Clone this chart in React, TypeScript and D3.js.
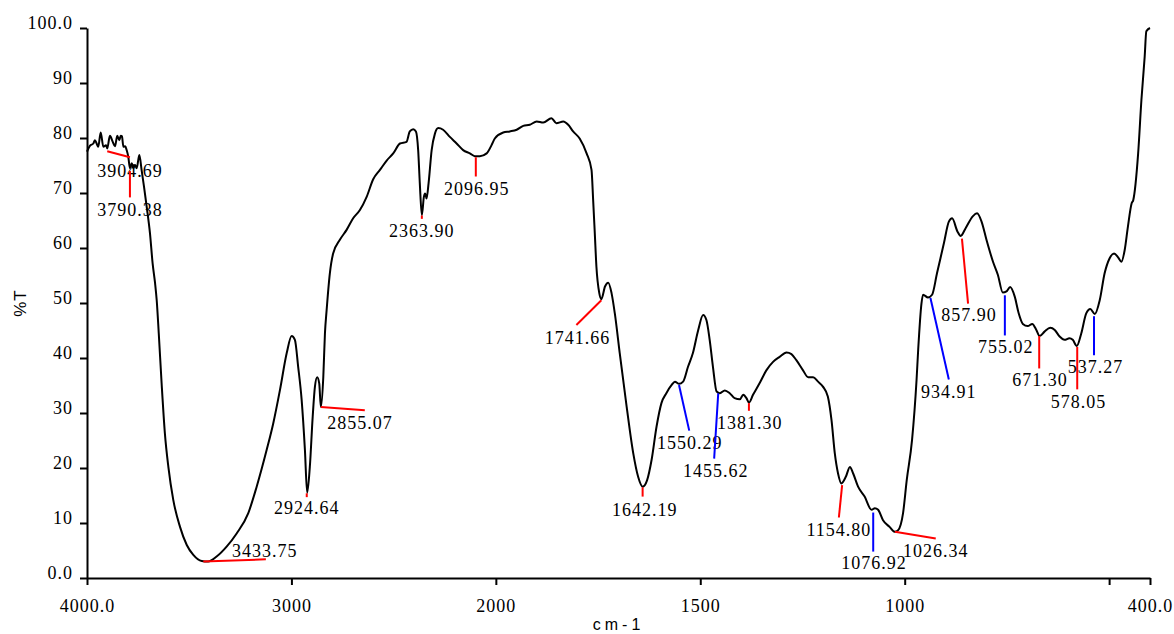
import React, { useEffect, useRef } from "react";
import * as d3 from "d3";

// IR spectrum, %T against wavenumber (cm-1), with picked peaks

const wavenumbers = [
  4000, 3985, 3969, 3961, 3953, 3945, 3933, 3920, 3907, 3901,
  3888, 3874, 3863, 3852, 3842, 3835, 3829, 3822, 3813, 3806,
  3798, 3790, 3781, 3774, 3765, 3757, 3744, 3733, 3721, 3708,
  3692, 3679, 3667, 3659, 3649, 3635, 3619, 3602, 3578, 3545,
  3512, 3480, 3439, 3407, 3366, 3317, 3268, 3211, 3170, 3121,
  3089, 3056, 3023, 2999, 2983, 2967, 2950, 2934, 2923, 2910,
  2896, 2885, 2874, 2864, 2856, 2844, 2836, 2828, 2812, 2796,
  2763, 2730, 2698, 2665, 2632, 2600, 2567, 2534, 2502, 2469,
  2437, 2421, 2404, 2391, 2380, 2372, 2362, 2352, 2346, 2339,
  2329, 2314, 2298, 2282, 2258, 2225, 2192, 2160, 2127, 2103,
  2078, 2045, 2021, 2005, 1982, 1966, 1949, 1933, 1917, 1900,
  1884, 1864, 1852, 1835, 1823, 1811, 1795, 1778, 1766, 1762,
  1758, 1754, 1747, 1742, 1733, 1725, 1717, 1709, 1697, 1680,
  1664, 1652, 1641, 1630, 1619, 1607, 1595, 1583, 1570, 1562,
  1552, 1542, 1530, 1518, 1505, 1493, 1485, 1477, 1469, 1460,
  1452, 1440, 1428, 1416, 1403, 1395, 1387, 1381, 1371, 1355,
  1338, 1322, 1306, 1289, 1277, 1265, 1249, 1236, 1224, 1212,
  1200, 1188, 1179, 1171, 1163, 1155, 1144, 1134, 1126, 1114,
  1098, 1081, 1073, 1065, 1053, 1037, 1024, 1016, 1004, 995,
  982, 971, 967, 959, 955, 943, 933, 921, 904, 892,
  884, 871, 863, 851, 833, 823, 812, 800, 784, 772,
  760, 751, 742, 731, 721, 711, 699, 688, 678, 670,
  658, 644, 633, 621, 609, 597, 589, 579, 568, 556,
  546, 535, 523, 511, 499, 488, 478, 470, 462, 454,
  445, 441, 429, 421, 413, 409, 400,
];

const transmittance = [
  77.5, 78.6, 79.0, 79.6, 79.0, 78.4, 81.0, 78.4, 78.7, 78.1,
  80.4, 79.3, 78.5, 80.4, 79.6, 80.4, 80.3, 78.4, 78.5, 77.8,
  76.6, 74.5, 75.4, 74.5, 75.1, 74.5, 76.9, 74.2, 71.1, 67.5,
  62.7, 57.2, 53.6, 50.5, 44.5, 35.4, 26.3, 20.2, 14.2, 9.3,
  6.0, 4.2, 3.1, 3.0, 3.9, 5.7, 8.1, 11.8, 16.6, 23.3,
  28.1, 34.2, 40.9, 44.0, 43.3, 38.4, 32.4, 23.3, 15.5, 20.2,
  29.3, 34.8, 36.5, 35.4, 31.1, 36.6, 44.5, 48.6, 55.4, 59.0,
  61.5, 63.3, 65.4, 66.9, 69.3, 72.5, 74.2, 75.9, 77.2, 79.0,
  79.3, 81.2, 81.6, 81.2, 77.8, 71.8, 66.0, 69.3, 69.9, 69.0,
  71.8, 77.8, 80.8, 81.8, 81.5, 80.2, 79.0, 77.8, 77.2, 76.7,
  76.7, 77.2, 78.7, 79.9, 81.0, 81.2, 81.5, 82.2, 82.4, 83.0,
  82.8, 83.6, 82.7, 83.0, 82.4, 81.2, 79.9, 77.2, 74.2, 68.7,
  62.7, 56.6, 51.8, 50.7, 53.0, 53.7, 51.8, 48.1, 40.9, 31.1,
  22.7, 18.4, 16.6, 17.8, 21.5, 27.5, 31.8, 33.6, 35.1, 35.7,
  35.3, 35.7, 38.4, 40.9, 45.1, 47.8, 46.9, 43.3, 38.4, 33.9,
  33.6, 34.1, 33.6, 32.7, 32.5, 33.3, 32.7, 31.9, 33.3, 35.4,
  37.8, 39.3, 40.2, 41.0, 40.7, 39.6, 37.8, 36.5, 36.5, 35.7,
  34.8, 33.0, 28.7, 22.7, 19.0, 17.2, 18.4, 20.2, 19.0, 16.6,
  14.8, 12.4, 12.7, 12.4, 10.5, 9.3, 8.4, 8.7, 11.8, 17.8,
  25.1, 36.0, 41.5, 49.9, 51.5, 51.0, 51.5, 55.4, 60.9, 64.8,
  65.4, 63.0, 62.2, 63.6, 65.8, 66.3, 64.8, 61.5, 57.5, 55.1,
  51.9, 52.1, 52.9, 51.2, 48.1, 46.2, 45.8, 46.2, 45.1, 44.0,
  44.8, 45.5, 45.1, 43.9, 43.3, 43.6, 43.3, 42.2, 44.5, 48.1,
  48.9, 48.0, 50.5, 55.4, 58.1, 59.0, 58.3, 57.5, 59.6, 63.9,
  68.1, 68.7, 77.2, 86.9, 94.8, 99.4, 100.0,
];

const yTicks = [0, 10, 20, 30, 40, 50, 60, 70, 80, 90, 100];
const yTickLabels = ["0.0", "10", "20", "30", "40", "50", "60", "70", "80", "90", "100.0"];
const xTicks = [4000, 3000, 2000, 1500, 1000, 500, 400];
const xTickLabels = ["4000.0", "3000", "2000", "1500", "1000", "", "400.0"];

// peak picks: label, marker kind, leader line (wavenumber, %T) from/to, label centre
const peakLabels = [
  "3904.69", "3790.38", "3433.75", "2924.64", "2855.07", "2363.90", "2096.95",
  "1741.66", "1642.19", "1550.29", "1455.62", "1381.30", "1154.80", "1076.92",
  "1026.34", "934.91", "857.90", "755.02", "671.30", "578.05", "537.27",
];
const peakKinds = [
  "min", "min", "min", "min", "min", "min", "min",
  "min", "min", "shoulder", "shoulder", "min", "min", "shoulder",
  "min", "shoulder", "min", "shoulder", "min", "min", "shoulder",
];
const leaderFrom: [number, number][] = [
  [3901, 77.6], [3790, 74.0], [3431, 3.0], [2925, 15.4], [2856, 31.1], [2362, 65.9], [2098, 76.5],
  [1742, 50.5], [1641, 16.5], [1552, 35.1], [1456, 33.6], [1381, 31.8], [1153, 16.9], [1077, 11.9],
  [1024, 8.4], [937, 50.9], [860, 61.7], [755, 51.4], [671, 44.0], [578, 42.0], [537, 47.6],
];
const leaderTo: [number, number][] = [
  [3790, 76.5], [3790, 69.2], [3125, 3.4], [2925, 14.7], [2641, 30.5], [2362, 65.3], [2098, 73.0],
  [1803, 46.0], [1641, 14.8], [1527, 26.8], [1466, 21.7], [1381, 30.4], [1161, 11.0], [1077, 4.8],
  [924, 7.2], [892, 36.1], [845, 49.9], [755, 44.1], [671, 38.1], [578, 34.3], [537, 40.5],
];
const labelAt: [number, number][] = [
  [3790, 74.1], [3790, 67.0], [3130, 4.9], [2925, 12.7], [2665, 28.2], [2362, 63.2], [2093, 70.7],
  [1800, 43.6], [1636, 12.4], [1526, 24.5], [1462, 19.4], [1379, 28.2], [1161, 8.7], [1075, 2.7],
  [924, 4.9], [892, 33.8], [843, 47.8], [753, 42.0], [669, 36.0], [575, 32.0], [533, 38.3],
];

const SERIF = "'Liberation Serif', 'Times New Roman', serif";
const SANS = "'Liberation Sans', Arial, sans-serif";

export default function App() {
  const svgRef = useRef<SVGSVGElement>(null);

  useEffect(() => {
    const svgEl = svgRef.current;
    if (!svgEl) return;
    const svg = d3.select(svgEl);
    svg.selectAll("*").remove();

    const width = 1174;
    const height = 634;
    const margin = { top: 28, right: 24, bottom: 56, left: 87 };
    const innerW = width - margin.left - margin.right;
    const innerH = height - margin.top - margin.bottom;

    // spectrometer-style axis: 4000-2000 drawn at half the scale of 2000-400
    const x = d3
      .scaleLinear()
      .domain([4000, 2000, 400])
      .range([0, (innerW * 10) / 26, innerW]);
    const y = d3.scaleLinear().domain([0, 100]).range([innerH, 0]);

    const g = svg.append("g").attr("transform", `translate(${margin.left},${margin.top})`);

    const xAxis = d3
      .axisBottom(x)
      .tickValues(xTicks)
      .tickFormat((d, i) => xTickLabels[i])
      .tickSize(7)
      .tickSizeOuter(0);
    const gx = g
      .append("g")
      .attr("transform", `translate(0,${innerH})`)
      .call(xAxis)
      .attr("font-family", SERIF)
      .attr("font-size", 18);
    gx.selectAll("text").attr("y", 33.5).attr("dy", 0).attr("fill", "#000").style("letter-spacing", "1px");

    const yAxis = d3
      .axisLeft(y)
      .tickValues(yTicks)
      .tickFormat((d, i) => yTickLabels[i])
      .tickSize(7)
      .tickSizeOuter(0);
    const gy = g.append("g").call(yAxis).attr("font-family", SERIF).attr("font-size", 18);
    gy.selectAll("text").attr("x", -14).attr("dy", 0).attr("fill", "#000").style("letter-spacing", "1px");

    [gx, gy].forEach((ax) => {
      ax.select(".domain").attr("stroke", "#000").attr("stroke-width", 2);
      ax.selectAll(".tick line").attr("stroke", "#000").attr("stroke-width", 2);
    });

    const line = d3
      .line<number>()
      .x((d, i) => x(wavenumbers[i]))
      .y((d) => y(d))
      .curve(d3.curveMonotoneX);

    g.append("path")
      .datum(transmittance)
      .attr("fill", "none")
      .attr("stroke", "#000")
      .attr("stroke-width", 2)
      .attr("stroke-linejoin", "round")
      .attr("d", line);

    const peaks = g
      .append("g")
      .selectAll("g")
      .data(peakLabels)
      .join("g");

    peaks
      .append("line")
      .attr("x1", (d, i) => x(leaderFrom[i][0]))
      .attr("y1", (d, i) => y(leaderFrom[i][1]))
      .attr("x2", (d, i) => x(leaderTo[i][0]))
      .attr("y2", (d, i) => y(leaderTo[i][1]))
      .attr("stroke", (d, i) => (peakKinds[i] === "min" ? "#ff0000" : "#0000ff"))
      .attr("stroke-width", 2);

    peaks
      .append("text")
      .attr("x", (d, i) => x(labelAt[i][0]))
      .attr("y", (d, i) => y(labelAt[i][1]))
      .attr("dy", "0.34em")
      .attr("text-anchor", "middle")
      .attr("font-family", SERIF)
      .attr("font-size", 18)
      .style("letter-spacing", "1px")
      .attr("fill", "#000")
      .text((d) => d);

    svg
      .append("text")
      .attr("transform", `translate(${margin.left - 67},${margin.top + innerH / 2}) rotate(-90)`)
      .attr("text-anchor", "middle")
      .attr("dy", "0.35em")
      .attr("font-family", SANS)
      .attr("font-size", 17)
      .style("letter-spacing", "1px")
      .text("%T");

    svg
      .append("text")
      .attr("x", margin.left + innerW / 2)
      .attr("y", height - 4)
      .attr("text-anchor", "middle")
      .attr("font-family", SANS)
      .attr("font-size", 16)
      .style("letter-spacing", "4px")
      .text("cm-1");
  }, []);

  return (
    <div style={{ position: "absolute", left: 0, top: 0, width: 1174, height: 634 }}>
      <svg ref={svgRef} width={1174} height={634} style={{ display: "block", background: "#fff" }} />
    </div>
  );
}
